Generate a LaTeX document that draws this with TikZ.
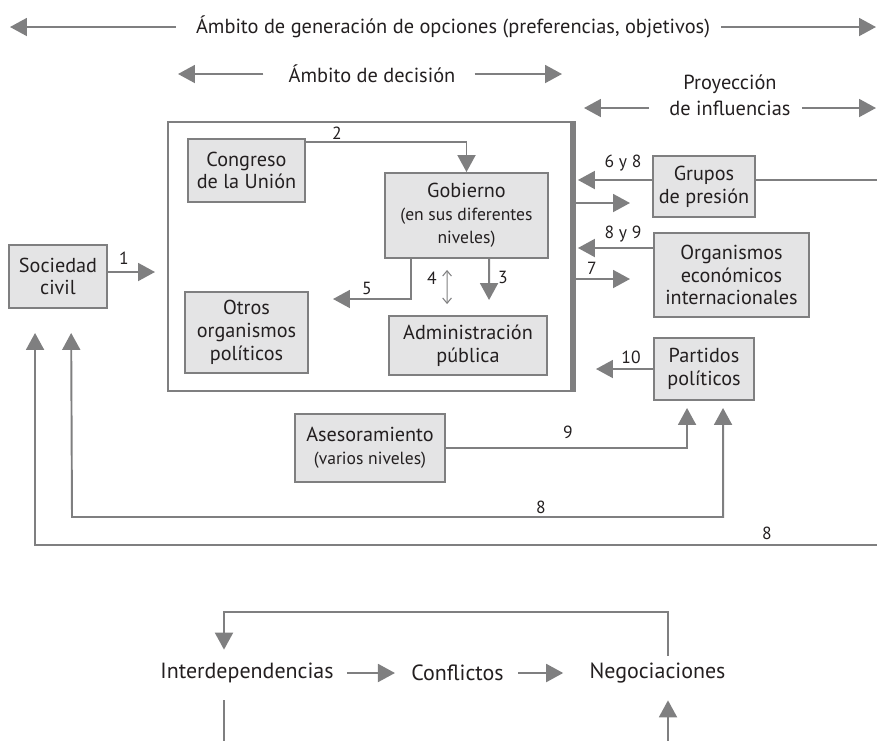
\documentclass[tikz,border=0pt]{standalone}
\usepackage{fontspec}
\setmainfont{PT Sans}
\usetikzlibrary{arrows.meta, positioning, calc}
\definecolor{lineg}{HTML}{7F7F80}
\definecolor{boxfill}{HTML}{E4E4E5}
\definecolor{ink}{HTML}{231F20}

\begin{document}
\begin{tikzpicture}[
  x=0.02cm, y=-0.02cm,
  every node/.style={text=ink, inner sep=0pt},
  box/.style={rectangle, draw=lineg, line width=1.1pt, fill=boxfill,
              align=center, font=\fontsize{11.5}{13}\selectfont},
  marco/.style={rectangle, draw=lineg, line width=1.1pt,
                minimum width=8.08cm, minimum height=5.38cm},
  lbl/.style={font=\fontsize{10}{12}\selectfont},
  ambito/.style={font=\fontsize{11.6}{13}\selectfont},
  etapa/.style={font=\fontsize{12.5}{15}\selectfont, minimum height=0.68cm},
  arr/.style={-{Triangle[length=0.34cm, width=0.36cm]}, line width=1.1pt, lineg},
  arr2/.style={{Triangle[length=0.34cm, width=0.36cm]}-{Triangle[length=0.34cm, width=0.36cm]},
               line width=1.1pt, lineg},
  conn/.style={line width=1.1pt, lineg},
  arrthin/.style={{Straight Barb[length=3pt, width=5pt]}-{Straight Barb[length=3pt, width=5pt]},
                  line width=0.6pt, lineg}
]
  \useasboundingbox (0,0) rectangle (877,741);

  % Scope headers
  \node[ambito] (gen) at (453,27) {Ámbito de generación de opciones (preferencias, objetivos)};
  \node[ambito] (dec) at (372,74) {Ámbito de decisión};
  \node[ambito] (proy) at (730,84) {Proyección};
  \node[ambito] (infl) at (730,108) {de influencias};
  \coordinate (genL) at (10,27);
  \coordinate (genR) at (876,27);
  \coordinate (decL) at (178,74);
  \coordinate (decR) at (562,74);
  \coordinate (inflL) at (584,108);
  \coordinate (inflR) at (876,108);
  \draw[arr, shorten <=0.4cm]  (gen.west) -- (genL);
  \draw[arr, shorten <=0.22cm] (gen.east) -- (genR);
  \draw[arr, shorten <=0.5cm]  (dec.west) -- (decL);
  \draw[arr, shorten <=0.38cm] (dec.east) -- (decR);
  \draw[arr, shorten <=0.4cm]  (infl.west) -- (inflL);
  \draw[arr, shorten <=0.22cm] (infl.east) -- (inflR);

  % Decision frame
  \node[marco] (frame) at (370,256.5) {};
  \draw[lineg, line width=3pt] (frame.north east) -- (frame.south east);

  % Boxes
  \node[box, minimum width=1.96cm, minimum height=1.26cm] (soc)    at (58,276.5)  {Sociedad\\civil};
  \node[box, minimum width=2.34cm, minimum height=1.26cm] (cong)   at (246.5,170.5) {Congreso\\de la Unión};
  \node[box, minimum width=3.26cm, minimum height=1.70cm] (gob)    at (466.5,215.5)
    {Gobierno\\{\fontsize{10}{12.5}\selectfont(en sus diferentes}\\{\fontsize{10}{12.5}\selectfont niveles)}};
  \node[box, minimum width=2.46cm, minimum height=1.62cm] (otros)  at (246.5,332.5) {Otros\\organismos\\políticos};
  \node[box, minimum width=3.16cm, minimum height=1.18cm] (admin)  at (468,345.5)   {Administración\\pública};
  \node[box, minimum width=2.04cm, minimum height=1.22cm] (grupos) at (704,186.5)   {Grupos\\de presión};
  \node[box, minimum width=3.10cm, minimum height=1.68cm] (organ)  at (731.5,275)   {Organismos\\económicos\\internacionales};
  \node[box, minimum width=2.00cm, minimum height=1.24cm] (part)   at (704,369)     {Partidos\\políticos};
  \node[box, minimum width=3.00cm, minimum height=1.36cm] (ases)   at (370,448)
    {Asesoramiento\\{\fontsize{10}{13}\selectfont(varios niveles)}};

  % Free ends
  \coordinate (t1)  at (155,272);
  \coordinate (t5)  at (333,299);
  \coordinate (o6)  at (630,203);
  \coordinate (o7)  at (630,279);
  \coordinate (t10) at (596,369);
  \coordinate (rc)  at (885,545);
  \coordinate (m8)  at (72,517);

  % Inside the frame
  \draw[arr] ($(soc.east)+(0,-4.5)$) -- (t1);
  \draw[arr] ($(cong.north east)+(0,4)$) -| (gob.north);
  \draw[arr] ($(gob.south west)+(27,0)$) |- (t5);
  \draw[arrthin] ($(gob.south west)+(63,11)$) -- ($(admin.north west)+(59,-11)$);
  \draw[arr, shorten >=0.3cm] ($(gob.south west)+(105,0)$) -- ($(admin.north west)+(101,0)$);

  % Projection of influences
  \draw[arr, shorten >=0.1cm] ($(grupos.west)+(0,-6.5)$) coordinate (g68) -- (g68 -| frame.east);
  \draw[arr] (frame.east |- o6) -- (o6);
  \draw[arr, shorten >=0.1cm] ($(organ.west)+(0,-27)$) coordinate (g89) -- (g89 -| frame.east);
  \draw[arr] (frame.east |- o7) -- (o7);
  \draw[arr] (part.west) -- (t10);
  \draw[arr, shorten >=0.14cm] (ases.east) -| ($(part.south west)+(34,0)$);
  \draw[arr2, shorten <=0.14cm, shorten >=0.48cm]
    ($(part.south west)+(70,0)$) |- (m8) -- ($(soc.south west)+(63,0)$);
  \draw[arr, shorten >=0.48cm] ($(grupos.east)+(0,-6.5)$) -| (rc) -| ($(soc.south west)+(27,0)$);

  % Numbers
  \node[lbl] (l1)  at (124,258) {1};
  \node[lbl] (l2)  at (337,133) {2};
  \node[lbl] (l3)  at (503,277) {3};
  \node[lbl] (l4)  at (432,278) {4};
  \node[lbl] (l5)  at (367,288) {5};
  \node[lbl] (l68) at (623,163) {6 y 8};
  \node[lbl] (l89) at (623,234) {8 y 9};
  \node[lbl] (l7)  at (592,268) {7};
  \node[lbl] (l10) at (631,357) {10};
  \node[lbl] (l9)  at (568,432) {9};
  \node[lbl] (l8a) at (541,507) {8};
  \node[lbl] (l8b) at (767,533) {8};

  % Cycle
  \node[etapa] (inter) at (247,673)   {Interdependencias};
  \node[etapa] (conf)  at (457.5,673) {Conflictos};
  \node[etapa] (neg)   at (657.5,673) {Negociaciones};
  \coordinate (lpR) at (668,612);
  \coordinate (lpL) at (224,612);
  \coordinate (dL)  at (224,760);
  \coordinate (dR)  at (668,760);
  \draw[arr, shorten <=0.26cm, shorten >=0.32cm] (inter.east) -- (conf.west);
  \draw[arr, shorten <=0.28cm, shorten >=0.52cm] (conf.east) -- (neg.west);
  \draw[arr, shorten >=0.12cm] (neg.north -| lpR) -- (lpR) -- (lpL) -- (inter.north -| lpL);
  \draw[conn, shorten <=0.2cm] (inter.south -| dL) -- (dL);
  \draw[arr, shorten >=0.2cm] (dR) -- (neg.south -| dR);
\end{tikzpicture}
\end{document}
